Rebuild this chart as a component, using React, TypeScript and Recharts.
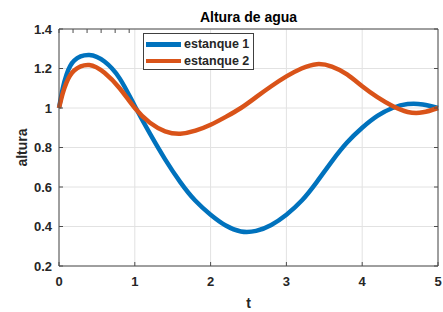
import { LineChart, Line, XAxis, YAxis, CartesianGrid, Legend, Label } from 'recharts';

const tValues = [0, 0.05, 0.1, 0.2, 0.4, 0.6, 0.8, 1.0, 1.2, 1.4, 1.6, 1.8, 2.0, 2.2, 2.4, 2.6, 2.8, 3.0, 3.2, 3.4, 3.6, 3.8, 4.0, 4.2, 4.4, 4.6, 4.8, 5.0];
const estanque1 = [1.0, 1.1, 1.17, 1.24, 1.268, 1.235, 1.15, 1.01, 0.87, 0.74, 0.625, 0.53, 0.46, 0.405, 0.375, 0.378, 0.408, 0.46, 0.53, 0.625, 0.73, 0.825, 0.9, 0.96, 1.0, 1.02, 1.018, 1.0];
const estanque2 = [1.0, 1.075, 1.13, 1.19, 1.218, 1.178, 1.1, 1.0, 0.925, 0.882, 0.87, 0.885, 0.915, 0.955, 1.0, 1.055, 1.11, 1.16, 1.2, 1.222, 1.21, 1.17, 1.11, 1.055, 1.01, 0.98, 0.978, 1.0];
const xTicks = [0, 1, 2, 3, 4, 5];
const yTicks = [0.2, 0.4, 0.6, 0.8, 1, 1.2, 1.4];

const data = tValues.map((t, i) => ({ t, e1: estanque1[i], e2: estanque2[i] }));

const font = '"Liberation Sans", Arial, Helvetica, sans-serif';
const tickStyle = { fontFamily: font, fontWeight: 'bold', fontSize: 13, fill: '#262626' };

const renderLegend = (props: any) => {
  const { payload } = props;
  return (
    <div
      style={{
        border: '1px solid #404040',
        background: '#fff',
        boxSizing: 'border-box',
        width: 111,
        height: 37,
        padding: '2px 2px 0 2px',
        fontFamily: font,
        fontWeight: 'bold',
        fontSize: 12.5,
        color: '#262626',
        whiteSpace: 'nowrap',
      }}
    >
      {payload.map((entry: any) => (
        <div key={entry.value} style={{ display: 'flex', alignItems: 'center', height: 16.5 }}>
          <span style={{ display: 'inline-block', width: 35, height: 4.5, background: entry.color, marginRight: 3, flex: 'none' }} />
          <span>{entry.value}</span>
        </div>
      ))}
    </div>
  );
};

export default function App() {
  return (
    <div style={{ position: 'absolute', left: 0, top: 0, background: '#fff' }}>
      <LineChart width={443} height={312} data={data} margin={{ top: 0, right: 0, bottom: 0, left: 0 }}>
        <CartesianGrid stroke="#e2e2e2" />
        <XAxis
          dataKey="t"
          type="number"
          domain={[0, 5]}
          ticks={xTicks}
          height={46}
          stroke="#4d4d4d"
          tickSize={-4}
          tickMargin={15}
          tick={tickStyle}
        >
          <Label value="t" position="insideBottom" offset={4} style={{ fontFamily: font, fontWeight: 'bold', fontSize: 14, fill: '#262626' }} />
        </XAxis>
        <XAxis
          xAxisId="top"
          orientation="top"
          type="number"
          domain={[0, 5]}
          allowDataOverflow
          ticks={xTicks}
          height={29}
          stroke="#4d4d4d"
          tickSize={-4}
          tickFormatter={() => ''}
        >
          <Label value="Altura de agua" position="center" dy={3} style={{ fontFamily: font, fontWeight: 'bold', fontSize: 14, fill: '#000' }} />
        </XAxis>
        <YAxis
          type="number"
          domain={[0.2, 1.4]}
          ticks={yTicks}
          width={59}
          stroke="#4d4d4d"
          tickSize={-4}
          tickMargin={11}
          tick={tickStyle}
        >
          <Label value="altura" angle={-90} position="insideLeft" offset={22} style={{ textAnchor: 'middle', fontFamily: font, fontWeight: 'bold', fontSize: 14, fill: '#262626' }} />
        </YAxis>
        <YAxis
          yAxisId="right"
          orientation="right"
          type="number"
          domain={[0.2, 1.4]}
          allowDataOverflow
          ticks={yTicks}
          width={5}
          stroke="#4d4d4d"
          tickSize={-4}
          tickFormatter={() => ''}
        />
        <Legend
          layout="vertical"
          verticalAlign="middle"
          align="center"
          content={renderLegend}
          wrapperStyle={{ left: 143, top: 33, width: 111 }}
        />
        <Line type="natural" dataKey="e1" name="estanque 1" stroke="#0072BD" strokeWidth={4.5} dot={false} isAnimationActive={false} />
        <Line type="natural" dataKey="e2" name="estanque 2" stroke="#D95319" strokeWidth={4.5} dot={false} isAnimationActive={false} />
      </LineChart>
    </div>
  );
}
